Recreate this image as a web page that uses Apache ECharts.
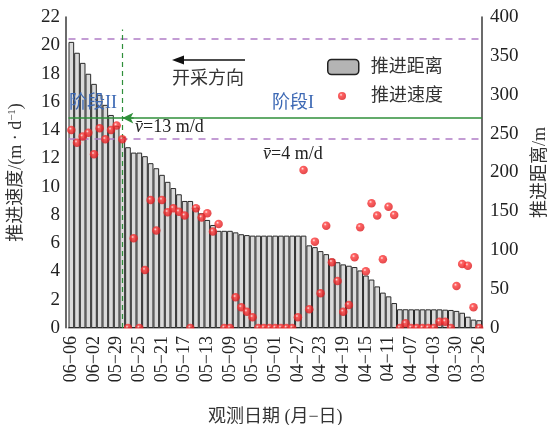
<!DOCTYPE html>
<html>
<head>
<meta charset="utf-8">
<script src="https://cdn.jsdelivr.net/npm/echarts@6/dist/echarts.min.js"></script>
<style>
html, body { margin: 0; padding: 0; background: #fff; }
#chart { width: 552px; height: 425px; }
</style>
</head>
<body>
<div id="chart"></div>
<script>
// 观测日期 (月-日), newest first
const dates = [
  '06-06','06-05','06-04','06-03','06-02','06-01',
  '05-31','05-30','05-29','05-28','05-27','05-26','05-25','05-24','05-23','05-22','05-21',
  '05-20','05-19','05-18','05-17','05-16','05-15','05-14','05-13','05-12','05-11',
  '05-10','05-09','05-08','05-07','05-06','05-05','05-04','05-03','05-02','05-01',
  '04-30','04-29','04-28','04-27','04-26','04-25','04-24','04-23','04-22','04-21',
  '04-20','04-19','04-18','04-17','04-16','04-15','04-14','04-13','04-12','04-11',
  '04-10','04-09','04-08','04-07','04-06','04-05','04-04','04-03','04-02','04-01',
  '03-31','03-30','03-29','03-28','03-27','03-26'
];

// 推进距离 /m
const distance = [
  368, 354, 341, 327, 314, 300, 287, 274, 260, 246,
  232.5, 225.6, 225.6, 221, 212, 205.5, 197, 188, 180, 172,
  163.4, 163.4, 155, 147.6, 139, 132.5, 125, 125, 125, 123,
  120.6, 119.5, 118.8, 118.8, 118.8, 118.8, 118.8, 118.8, 118.8, 118.8,
  118.8, 118.8, 106.3, 104, 98.9, 95, 89.2, 84.6, 81.8, 80.1,
  78.4, 74, 67.5, 62.3, 53.5, 45.5, 40.7, 32.1, 24.1, 24.1,
  24, 24, 24, 24, 24, 24, 23.6, 23.2, 22, 19.6,
  14.5, 10.8, 10
];

// 推进速度 /(m·d-1)
const speed = [
  14.01, 13.11, 13.54, 13.82, 12.29, 14.13, 13.35, 14.01, 14.32, 13.35,
  0, 6.35, 0, 4.10, 9.06, 6.89, 9.06, 8.19, 8.47, 8.23,
  7.95, 0, 8.47, 7.81, 8.12, 6.82, 7.36, 0, 0, 2.17,
  1.46, 1.15, 0.76, 0, 0, 0, 0, 0, 0, 0,
  0.76, 11.18, 1.32, 6.11, 2.46, 7.24, 4.65, 3.33, 1.15, 1.63,
  5.00, 7.13, 4.01, 8.83, 7.95, 4.86, 8.58, 8.00, 0, 0.33,
  0, 0, 0, 0, 0, 0.45, 0.45, 0, 2.97, 4.53,
  4.41, 1.46, 0
];

const stageLimits = [372, 243];   // 阶段II 起止距离 (紫色虚线)
const stageLine = 270;            // 阶段分界 (绿色实线)
const stageDate = '05-28';        // 阶段分界日期 (绿色虚线)

const FONT = "'Liberation Serif', 'Noto Sans CJK SC', serif";
const AXIS = '#3a3a3a';

let myChart = echarts.init(document.getElementById('chart'));

let option = {
  animation: false,
  textStyle: { fontFamily: FONT },
  grid: { left: 68.5, right: 70, top: 17, bottom: 97, outerBoundsMode: 'none' },
  legend: [{
    orient: 'vertical',
    left: 327, top: 58, padding: 0,
    itemWidth: 31, itemHeight: 15,
    data: [{ name: '推进距离', itemStyle: { color: '#b4b4b4', borderColor: '#222', borderWidth: 1.5 } }],
    textStyle: { fontSize: 18, color: '#333', fontFamily: FONT, padding: [0, 0, 0, 7] }
  }, {
    orient: 'vertical',
    left: 338, top: 87, padding: 0,
    itemWidth: 8, itemHeight: 8,
    data: [{ name: '推进速度', icon: 'circle' }],
    textStyle: { fontSize: 18, color: '#333', fontFamily: FONT, padding: [0, 0, 0, 20] }
  }],
  xAxis: {
    type: 'category',
    data: dates,
    name: '观测日期 (月−日)',
    nameLocation: 'middle',
    nameGap: 80,
    nameTextStyle: { fontSize: 18, color: '#333', fontFamily: FONT },
    axisLine: { lineStyle: { color: AXIS, width: 1.5 } },
    axisTick: { inside: true, interval: 3, alignWithLabel: true, length: 5, lineStyle: { color: AXIS, width: 1.2 } },
    axisLabel: {
      interval: 3, rotate: 90, margin: 8, overflow: 'none', width: 120,
      fontSize: 18, color: '#222', fontFamily: FONT,
      formatter: v => v.replace('-', '−')
    },
    splitLine: { show: false }
  },
  yAxis: [{
    type: 'value',
    min: 0, max: 22, interval: 2,
    offset: 2.5,
    name: '推进速度/(m · d{s|−1})',
    nameLocation: 'middle',
    nameGap: 40,
    nameTextStyle: { fontSize: 18, color: '#333', fontFamily: FONT, rich: { s: { fontSize: 11, verticalAlign: 'top', padding: [0, 0, 8, 0], fontFamily: FONT } } },
    axisLine: { show: true, lineStyle: { color: AXIS, width: 1.5 } },
    axisTick: { inside: true, length: 5, lineStyle: { color: AXIS, width: 1.2 } },
    axisLabel: { fontSize: 19, color: '#222', fontFamily: FONT, margin: 6 },
    splitLine: { show: false }
  }, {
    type: 'value',
    min: 0, max: 400, interval: 50,
    name: '推进距离/m',
    nameLocation: 'middle',
    nameGap: 49,
    nameTextStyle: { fontSize: 18, color: '#333', fontFamily: FONT },
    axisLine: { show: true, lineStyle: { color: AXIS, width: 1.5 } },
    axisTick: { inside: true, length: 5, lineStyle: { color: AXIS, width: 1.2 } },
    axisLabel: { fontSize: 19, color: '#222', fontFamily: FONT, margin: 8 },
    splitLine: { show: false }
  }],
  series: [{
    name: '推进距离',
    type: 'bar',
    yAxisIndex: 1,
    data: distance,
    barCategoryGap: '0%',
    itemStyle: { color: '#dadada', borderColor: '#2a2a2a', borderWidth: 1 },
    markLine: {
      silent: true,
      symbol: 'none',
      label: { show: false },
      data: [
        { yAxis: stageLimits[0], lineStyle: { color: '#b07cc6', type: [7, 6], width: 1.5 } },
        { yAxis: stageLimits[1], lineStyle: { color: '#b07cc6', type: [7, 6], width: 1.5 } },
        { yAxis: stageLine, lineStyle: { color: '#2f8f3a', type: 'solid', width: 1.5 } },
        [{ coord: [stageDate, 0], lineStyle: { color: '#2f8f3a', type: [5, 4], width: 1.2 } },
         { coord: [stageDate, 384] }],
        [{ coord: [stageDate, stageLine], symbol: 'arrow', symbolSize: [8, 11], lineStyle: { color: '#2f8f3a', type: 'solid', width: 1.5 } },
         { coord: ['05-26', stageLine], symbol: 'none' }]
      ]
    }
  }, {
    name: '推进速度',
    type: 'scatter',
    data: speed,
    symbolSize: 8.5,
    z: 5,
    itemStyle: {
      color: {
        type: 'radial', x: 0.38, y: 0.35, r: 0.65,
        colorStops: [
          { offset: 0, color: '#ffe4e4' },
          { offset: 0.28, color: '#ff3b3b' },
          { offset: 1, color: '#dc1a1e' }
        ]
      }
    }
  }],
  graphic: [
    // hide the lower half of the zero-speed dots below the axis
    { type: 'rect', z: 100, shape: { x: 60, y: 328.6, width: 430, height: 4.6 }, style: { fill: '#fff' } },
    // 开采方向 arrow
    { type: 'line', z: 100, shape: { x1: 182, y1: 60, x2: 245, y2: 60 }, style: { stroke: '#111', lineWidth: 1.5 } },
    { type: 'polygon', z: 100, shape: { points: [[172, 60], [184, 55.5], [184, 64.5]] }, style: { fill: '#111' } },
    { type: 'text', z: 100, left: 172, top: 70, style: { text: '开采方向', fontSize: 18, fill: '#333', fontFamily: FONT } },
    { type: 'text', z: 100, left: 69, top: 94, style: { text: '阶段II', fontSize: 18, fill: '#3c68b4', fontFamily: FONT } },
    { type: 'text', z: 100, left: 272, top: 94, style: { text: '阶段I', fontSize: 18, fill: '#3c68b4', fontFamily: FONT } },
    { type: 'text', z: 100, left: 135, top: 118, style: {
      text: '{i|v\u0304}=13 m/d', fontSize: 18, fill: '#222', fontFamily: FONT,
      rich: { i: { fontStyle: 'italic', fontSize: 18, fontFamily: FONT } } } },
    { type: 'text', z: 100, left: 263, top: 145, style: {
      text: '{i|v\u0304}=4 m/d', fontSize: 18, fill: '#222', fontFamily: FONT,
      rich: { i: { fontStyle: 'italic', fontSize: 18, fontFamily: FONT } } } }
  ]
};

myChart.setOption(option);
</script>
</body>
</html>
